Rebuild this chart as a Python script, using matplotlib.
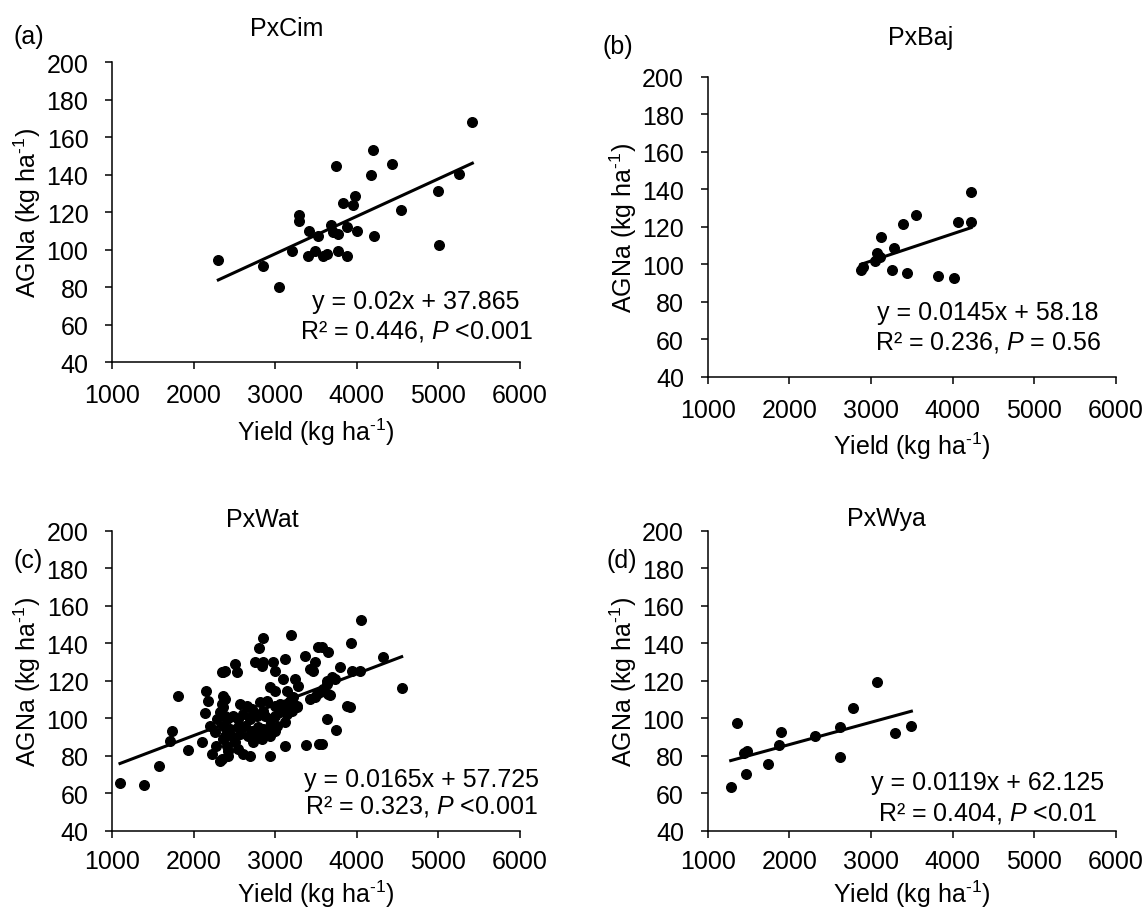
import matplotlib
matplotlib.use("Agg")
import matplotlib.pyplot as plt
import numpy as np

plt.rcParams.update({
    "font.family": ["Liberation Sans", "DejaVu Sans"],
    "font.size": 18,
    "mathtext.fontset": "custom",
    "mathtext.rm": "Liberation Sans",
    "mathtext.it": "Liberation Sans:italic",
    "axes.linewidth": 1.1,
})

# --- dane ---
# (a) PxCim
cim_x = [2303, 2846, 3042, 3210, 3292, 3292, 3398, 3418, 3488, 3520, 3582, 3639,
         3745, 3765, 3680, 3712, 3770, 3835, 3884, 3884, 3957, 3978, 4006, 4174,
         4203, 4211, 4436, 4538, 4995, 5007, 5252, 5416]
cim_y = [94.6, 91.2, 80.0, 99.6, 118.8, 115.6, 96.5, 109.9, 99.2, 107.2, 96.5, 97.8,
         144.5, 99.2, 113.2, 109.3, 108.4, 125.0, 112.0, 96.9, 123.9, 128.9, 109.9, 140.1,
         153.4, 107.2, 146.0, 121.1, 131.6, 102.8, 140.4, 168.4]

# (b) PxBaj
baj_x = [2879, 2908, 3051, 3079, 3112, 3124, 3288, 3263, 3390, 3443, 3557, 3823,
         4015, 4064, 4223, 4227]
baj_y = [97.1, 98.3, 101.5, 106.0, 103.6, 114.7, 108.4, 97.1, 121.4, 95.3, 126.4, 93.7,
         92.8, 122.3, 138.3, 122.7]

# (c) PxWat
wat_x = [1098, 1392, 1580, 1731, 1711, 1813, 1928, 2099, 2152, 2181, 2140, 2201,
         2222, 2324, 2357, 2365, 2365, 2283, 2262, 2275, 2365, 2405, 2385, 2425,
         2847, 2805, 3190, 2752, 2835, 2855, 2978, 2998, 3120, 2507, 2536, 2385,
         2344, 3365, 3528, 3487, 3426, 3467,
         3100, 3243, 3284, 2936, 2998, 3141, 3222, 3508, 3590, 3631,
         2344, 2385,
         2569, 2651, 2711, 2813, 2896, 2855, 2998, 3059, 3120, 3181, 3222, 3263,
         3426, 3487, 3651,
         2324, 2405, 2487, 2548, 2609, 2691, 2773, 2875, 2936, 2998, 3059, 3141,
         2365, 2446, 2548, 2630, 2712, 2793, 2855, 2936, 3018, 3120, 3202, 3263,
         2385, 2487, 2569, 2670, 2773, 2896, 2998,
         2405, 2507, 2548, 2732, 2835, 2936, 2609, 2426, 2344,
         2691, 2936, 3120, 3377, 3541,
         4047, 3929, 3652, 3570, 4325, 3794, 3937, 4039, 3691, 3733, 3631, 4550,
         3672, 3549, 3875, 3917, 3631, 3745, 3570]
wat_y = [65.3, 64.5, 74.7, 93.3, 88.0, 111.7, 83.0, 87.1, 114.3, 109.3, 103.0, 96.0,
         80.9, 77.3, 124.8, 112.0, 105.8, 99.6, 92.5, 85.3, 88.9, 94.2, 101.3, 82.7,
         142.8, 137.3, 144.5, 129.8, 128.0, 129.8, 129.8, 125.3, 131.6, 128.9, 124.8, 125.3,
         124.5, 133.3, 137.8, 129.8, 126.2, 125.3,
         120.9, 120.9, 117.3, 116.5, 114.7, 114.7, 111.1, 112.9, 115.6, 118.2,
         107.6, 110.2,
         107.6, 106.7, 104.9, 108.5, 109.3, 104.0, 106.7, 107.6, 105.8, 109.3, 106.7, 105.8,
         110.2, 111.1, 112.9,
         103.1, 99.6, 101.3, 99.6, 102.2, 99.6, 101.3, 101.3, 99.6, 101.3, 103.1, 102.2,
         96.0, 94.2, 95.1, 96.0, 93.3, 95.1, 94.2, 96.0, 96.0, 97.8, 104.0, 106.7,
         90.7, 89.8, 91.6, 90.7, 90.7, 92.5, 93.3,
         85.3, 87.1, 83.6, 87.1, 88.9, 90.7, 80.9, 80.0, 78.2,
         80.0, 80.0, 85.3, 85.7, 86.2,
         152.5, 140.1, 135.5, 137.8, 132.5, 127.1, 125.3, 125.0, 121.8, 120.9, 120.0, 116.1,
         112.5, 113.8, 106.7, 105.8, 99.6, 93.9, 86.2]

# (d) PxWya
wya_x = [1282, 1364, 1445, 1486, 1470, 1743, 1874, 1903, 2315, 2622, 2626, 2785,
         3071, 3292, 3496]
wya_y = [63.5, 97.2, 81.4, 82.3, 70.2, 75.6, 85.7, 92.4, 90.7, 95.1, 79.5, 105.2,
         119.5, 91.9, 95.6]

names = ["PxCim", "PxBaj", "PxWat", "PxWya"]
letters = ["(a)", "(b)", "(c)", "(d)"]
slopes = [0.02, 0.0145, 0.0165, 0.0119]
intercepts = [37.865, 58.18, 57.725, 62.125]
eq_lines = ["y = 0.02x + 37.865", "y = 0.0145x + 58.18",
            "y = 0.0165x + 57.725", "y = 0.0119x + 62.125"]
r2_lines = [r"R² = 0.446, $P$ <0.001", r"R² = 0.236, $P$ = 0.56",
            r"R² = 0.323, $P$ <0.001", r"R² = 0.404, $P$ <0.01"]
xs = [cim_x, baj_x, wat_x, wya_x]
ys = [cim_y, baj_y, wat_y, wya_y]

W, H = 1145, 912
fig = plt.figure(figsize=(W / 100, H / 100), dpi=100)

# pozycje osi w pikselach: lewo, gora
boxes = [(112, 63.3), (707.7, 77.7), (112, 531.7), (707.7, 531.7)]
aw, ah = 408, 300
title_pos = [(287, 36), (921, 45), (262, 527), (886, 526)]
letter_pos = [(13, 44), (603, 54), (13, 568), (607, 568)]
eq_pos = [(4725, 72.7, 56.7), (4435, 74.3, 58.7), (4795, 67.6, 53.3), (4427, 65.8, 49.8)]
xlab_y = [-0.229, -0.229, -0.207, -0.207]

for i in range(4):
    l, t = boxes[i]
    ax = fig.add_axes([l / W, 1 - (t + ah) / H, aw / W, ah / H])
    x = np.array(xs[i])
    y = np.array(ys[i])
    ax.scatter(x, y, s=48, color="black", zorder=3)
    xl = np.array([x.min(), x.max()])
    ax.plot(xl, slopes[i] * xl + intercepts[i], color="black", lw=2.2, zorder=2)

    ax.set_xlim(1000, 6000)
    ax.set_ylim(40, 200)
    ax.set_xticks(np.arange(1000, 6001, 1000))
    ax.set_yticks(np.arange(40, 201, 20))
    ax.spines["top"].set_visible(False)
    ax.spines["right"].set_visible(False)
    ax.tick_params(direction="out", length=5, width=1.1)
    ax.tick_params(axis="x", pad=10 if i < 2 else 8)
    ax.tick_params(axis="y", pad=12)

    ax.set_xlabel(r"Yield (kg ha$^{\text{-1}}$)", va="center")
    ax.set_ylabel(r"AGNa (kg ha$^{\text{-1}}$)", va="center")
    ax.xaxis.set_label_coords(0.5, xlab_y[i])
    ax.yaxis.set_label_coords(-0.208, 0.5)

    ex, ey1, ey2 = eq_pos[i]
    ax.text(ex, ey1, eq_lines[i], ha="center", va="center")
    ax.text(ex, ey2, r2_lines[i], ha="center", va="center")

    tx, ty = title_pos[i]
    fig.text(tx / W, 1 - ty / H, names[i], ha="center", va="baseline")
    lx, ly = letter_pos[i]
    fig.text(lx / W, 1 - ly / H, letters[i], ha="left", va="baseline")

fig.savefig("out.png", dpi=100)
